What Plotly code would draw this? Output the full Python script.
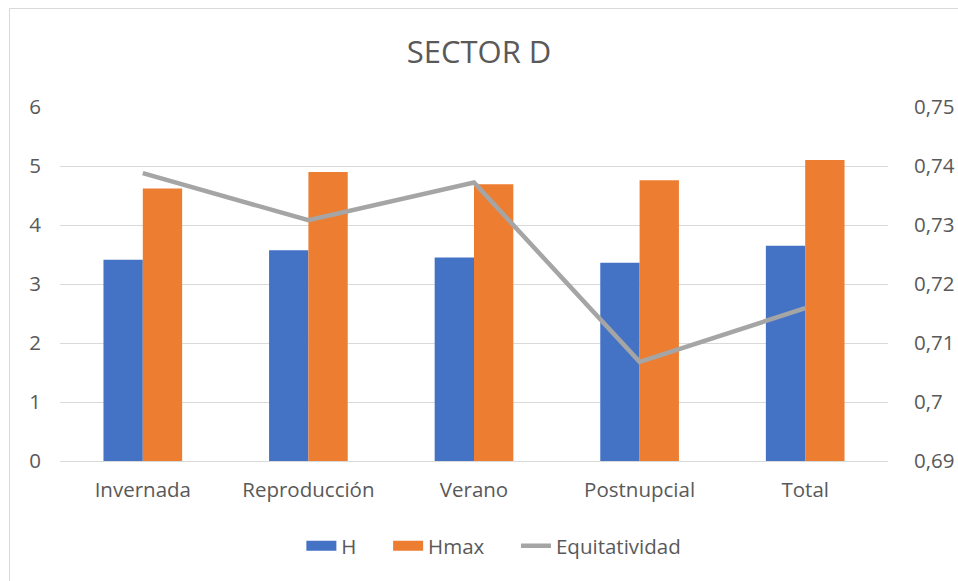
import plotly.graph_objects as go

categories = ["Invernada", "Reproducción", "Verano", "Postnupcial", "Total"]
h_values = [3.41, 3.57, 3.45, 3.36, 3.65]
hmax_values = [4.62, 4.90, 4.69, 4.76, 5.10]
equit_values = [0.7388, 0.7308, 0.7372, 0.7068, 0.7159]
left_ticks = [0, 1, 2, 3, 4, 5, 6]
right_tickvals = [0.69, 0.70, 0.71, 0.72, 0.73, 0.74, 0.75]
right_ticktext = ["0,69", "0,7", "0,71", "0,72", "0,73", "0,74", "0,75"]
series_names = ["H", "Hmax", "Equitatividad"]

FONT = "Open Sans"
TXT = "#595959"
FS = 20.5
BLUE, ORANGE, GRAY = "#4472C4", "#ED7D31", "#A5A5A5"
PAD = "\u00a0" * 5

fig = go.Figure()
fig.add_trace(go.Bar(name=series_names[0], x=categories, y=h_values, marker_color=BLUE,
                     marker_line_width=0, showlegend=False))
fig.add_trace(go.Bar(name=series_names[1], x=categories, y=hmax_values, marker_color=ORANGE,
                     marker_line_width=0, showlegend=False))
fig.add_trace(go.Scatter(name=series_names[2], x=categories, y=equit_values, yaxis="y2",
                         mode="lines", line=dict(color=GRAY, width=4.5), showlegend=False))
# legend entries (rectangular swatches like the original)
fig.add_trace(go.Scatter(name=series_names[0] + PAD, x=[None], y=[None], mode="lines",
                         line=dict(color=BLUE, width=13), hoverinfo="skip"))
fig.add_trace(go.Scatter(name=series_names[1] + PAD, x=[None], y=[None], mode="lines",
                         line=dict(color=ORANGE, width=13), hoverinfo="skip"))
fig.add_trace(go.Scatter(name=series_names[2], x=[None], y=[None], mode="lines",
                         line=dict(color=GRAY, width=4.5), hoverinfo="skip"))

W, H = 958, 581
ml, mr, mt, mb = 60, 70, 107, 120
pw, ph = W - ml - mr, H - mt - mb

def px_x(p):
    return (p - ml) / pw

def px_y(p):
    return (H - mb - p) / ph

fig.update_layout(
    width=W, height=H,
    margin=dict(l=ml, r=mr, t=mt, b=mb, autoexpand=False),
    paper_bgcolor="white", plot_bgcolor="white",
    separators=",.",
    font=dict(family=FONT, color=TXT, size=FS),
    title=dict(text="SECTOR D", x=0.5, xanchor="center", y=1 - 52 / H, yanchor="middle",
               font=dict(family=FONT, size=31, color=TXT)),
    barmode="group", bargap=0.525, bargroupgap=0,
    xaxis=dict(showgrid=False, showline=False, ticks="", automargin=False,
               ticklabelstandoff=14, tickfont=dict(size=FS, color=TXT)),
    yaxis=dict(range=[0, 6], tickvals=left_ticks, showgrid=True, gridcolor="#D9D9D9",
               gridwidth=1.3, zeroline=True, zerolinecolor="#D9D9D9", zerolinewidth=1.3,
               showline=False, ticks="", automargin=False, ticklabelstandoff=18,
               tickfont=dict(size=FS, color=TXT)),
    yaxis2=dict(range=[0.69, 0.75], tickvals=right_tickvals, ticktext=right_ticktext,
                overlaying="y", side="right", showgrid=False, zeroline=False,
                showline=False, ticks="", automargin=False, ticklabelstandoff=25,
                tickfont=dict(size=FS, color=TXT)),
    legend=dict(orientation="h", x=0.524, xanchor="center", y=px_y(546), yanchor="middle",
                font=dict(size=FS, color=TXT), itemwidth=30, traceorder="normal"),
    showlegend=True,
    shapes=[dict(type="rect", xref="paper", yref="paper",
                 x0=px_x(9.5), x1=px_x(1000), y0=px_y(620), y1=px_y(8.5),
                 line=dict(color="#D9D9D9", width=1), fillcolor="rgba(0,0,0,0)", layer="below")],
)

fig.write_html("out.html", config={"displayModeBar": False},
               post_script="document.body.style.margin='0';document.body.style.padding='0';")
